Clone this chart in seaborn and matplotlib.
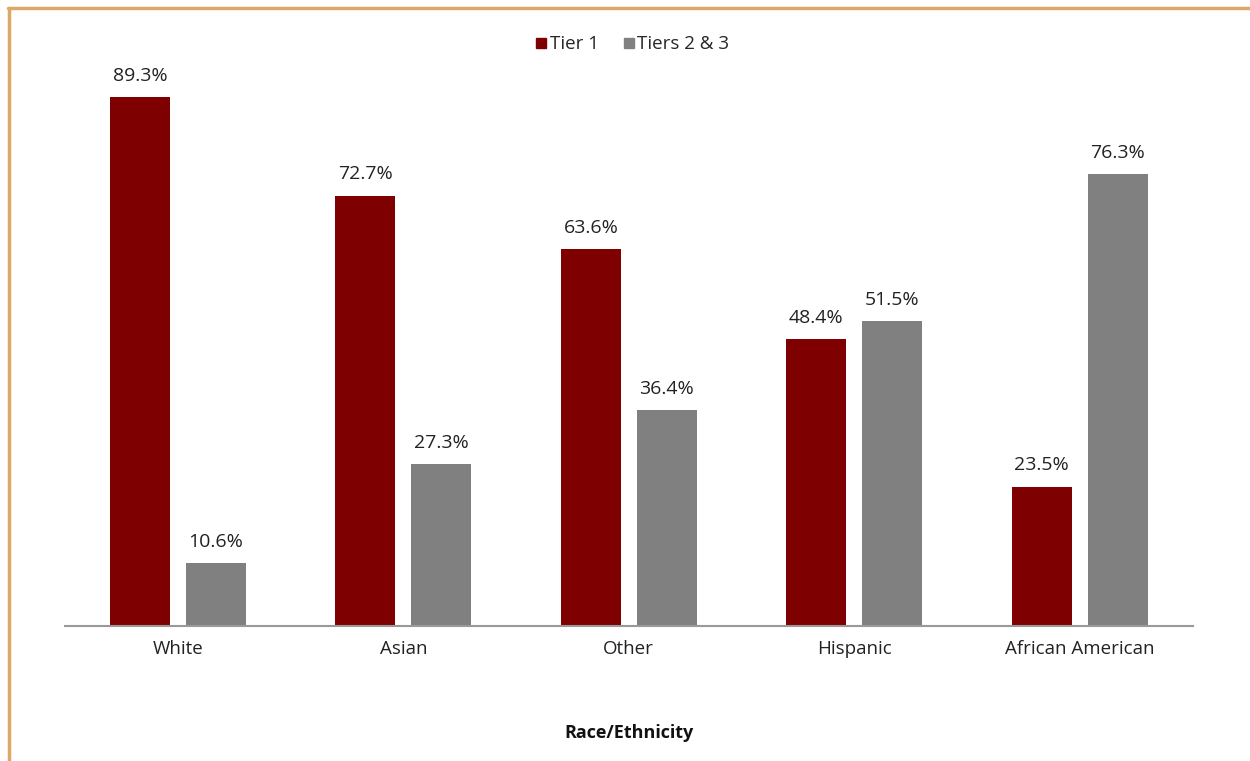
import pandas as pd
import numpy as np
import matplotlib.pyplot as plt
import seaborn as sns
from matplotlib.lines import Line2D

groups = ["White", "Asian", "Other", "Hispanic", "African American"]
tier1 = [89.3, 72.7, 63.6, 48.4, 23.5]
tier23 = [10.6, 27.3, 36.4, 51.5, 76.3]
series = ["Tier 1", "Tiers 2 & 3"]
colors = ["#7f0000", "#808080"]

df = pd.DataFrame({
    "group": groups * 2,
    "tier": [series[0]] * len(groups) + [series[1]] * len(groups),
    "pct": tier1 + tier23,
})

sns.set_style("white")
plt.rcParams["font.family"] = ["Open Sans", "DejaVu Sans"]

fig = plt.figure(figsize=(12.5, 7.61), dpi=100)
ax = fig.add_axes([0.052, 0.1774, 0.902, 0.778])

sns.barplot(data=df, x="group", y="pct", hue="tier", palette=colors,
            width=0.672, gap=0.21, saturation=1, linewidth=0, ax=ax, legend=False)

for c in ax.containers:
    ax.bar_label(c, labels=[f"{v:.1f}%" for v in c.datavalues],
                 padding=9, fontsize=14, color="#222222")

ax.set_xlim(-0.5, 4.5)
ax.set_ylim(0, 100)
ax.set_yticks([])
ax.set_ylabel("")
ax.set_xlabel("Race/Ethnicity", fontsize=13, fontweight="bold", color="#111111")
ax.xaxis.set_label_coords(0.5, -0.181)
ax.xaxis.label.set_verticalalignment("center")
ax.tick_params(axis="x", length=0, labelsize=13.5, pad=10, colors="#222222")
for s in ["top", "right", "left"]:
    ax.spines[s].set_visible(False)
ax.spines["bottom"].set_color("#999999")
ax.spines["bottom"].set_linewidth(1.5)

handles = [Line2D([], [], marker="s", linestyle="", color=c, markersize=7)
           for c in colors]
fig.legend(handles, series, loc="center", bbox_to_anchor=(0.505, 0.942),
           ncol=2, frameon=False, fontsize=13.5, handletextpad=0.05,
           columnspacing=1.2, handlelength=0.8)

# tan frame around the figure (left and top edges)
fig.add_artist(Line2D([0.0072, 0.0072], [0.0, 0.9895], transform=fig.transFigure,
                      color="#dda865", linewidth=2.5))
fig.add_artist(Line2D([0.0062, 1.0], [0.9895, 0.9895], transform=fig.transFigure,
                      color="#dda865", linewidth=2.5))

fig.savefig("out.png", dpi=100)
